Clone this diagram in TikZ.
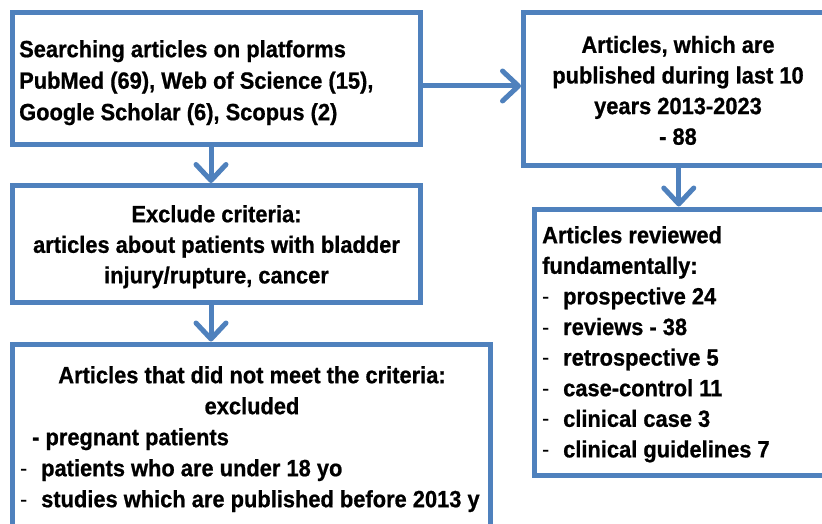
\documentclass[tikz,border=0pt]{standalone}
\usepackage{fontspec}
\setmainfont{Liberation Sans}[FakeStretch=0.93,BoldFeatures={FakeBold=0.8}]
\usetikzlibrary{arrows.meta}
\definecolor{boxblue}{RGB}{79,129,189}
\newcommand{\fl}{\rule{0pt}{20pt}}
\newcommand{\dsh}{\makebox[21pt][l]{\mdseries -}}
\begin{document}
\begin{tikzpicture}[x=1pt,y=-1pt,
  box/.style={draw=boxblue,line width=5pt,inner sep=0pt},
  txt/.style={inner sep=0pt,text=black,font=\fontsize{23.5}{30.6}\selectfont\bfseries},
  arr/.style={draw=boxblue,line width=5pt,-{Straight Barb[length=16pt,width=30pt,line width=5pt,line cap=round,line join=round]}}]
\useasboundingbox (0,0) rectangle (822,524);
\fill[white] (0,0) rectangle (822,524);
% boxes
\node[box,minimum width=407.5pt,minimum height=132pt] (b1) at (216.25,78.5) {};
\node[box,minimum width=310.5pt,minimum height=153pt] (b2) at (678.75,89) {};
\node[box,minimum width=407.5pt,minimum height=116.5pt] (b3) at (216.25,243.75) {};
\node[box,minimum width=478pt,minimum height=192pt] (b4) at (251.5,440) {};
\node[box,minimum width=300pt,minimum height=266.5pt] (b5) at (684,342.25) {};
% texts
\node[txt,anchor=north west,align=left,font=\fontsize{23.5}{31.5}\selectfont\bfseries] (t1) at (19,37)
  {\fl Searching articles on platforms\\PubMed (69), Web of Science (15),\\Google Scholar (6), Scopus (2)};
\node[txt,anchor=north,align=center] (t2) at (678,32.7)
  {\fl Articles, which are\\published during last 10\\years 2013-2023\\- 88};
\node[txt,anchor=north,align=center] (t3) at (216.5,202)
  {\fl Exclude criteria:\\articles about patients with bladder\\injury/rupture, cancer};
\node[txt,anchor=north,align=center,font=\fontsize{23.5}{31}\selectfont\bfseries] (t4a) at (252,363)
  {\fl Articles that did not meet the criteria:\\excluded};
\node[txt,anchor=north west,align=left,font=\fontsize{23.5}{31}\selectfont\bfseries] (t4b) at (20,425)
  {\fl\hspace*{12pt}- pregnant patients\\\dsh patients who are under 18 yo\\\dsh studies which are published before 2013 y};
\node[txt,anchor=north west,align=left] (t5) at (542,223)
  {\fl Articles reviewed\\fundamentally:\\\dsh prospective 24\\\dsh reviews - 38\\\dsh retrospective 5\\\dsh case-control 11\\\dsh clinical case 3\\\dsh clinical guidelines 7};
% connectors
\coordinate (ah) at (0,86);
\coordinate (vx) at (211,0);
\draw[arr] (b1.east |- ah) -- (b2.west |- ah);
\draw[arr] (b1.south -| vx) -- (b3.north -| vx);
\draw[arr] (b3.south -| vx) -- (b4.north -| vx);
\draw[arr] (b2.south) -- (b2.south |- b5.north);
\end{tikzpicture}
\end{document}
